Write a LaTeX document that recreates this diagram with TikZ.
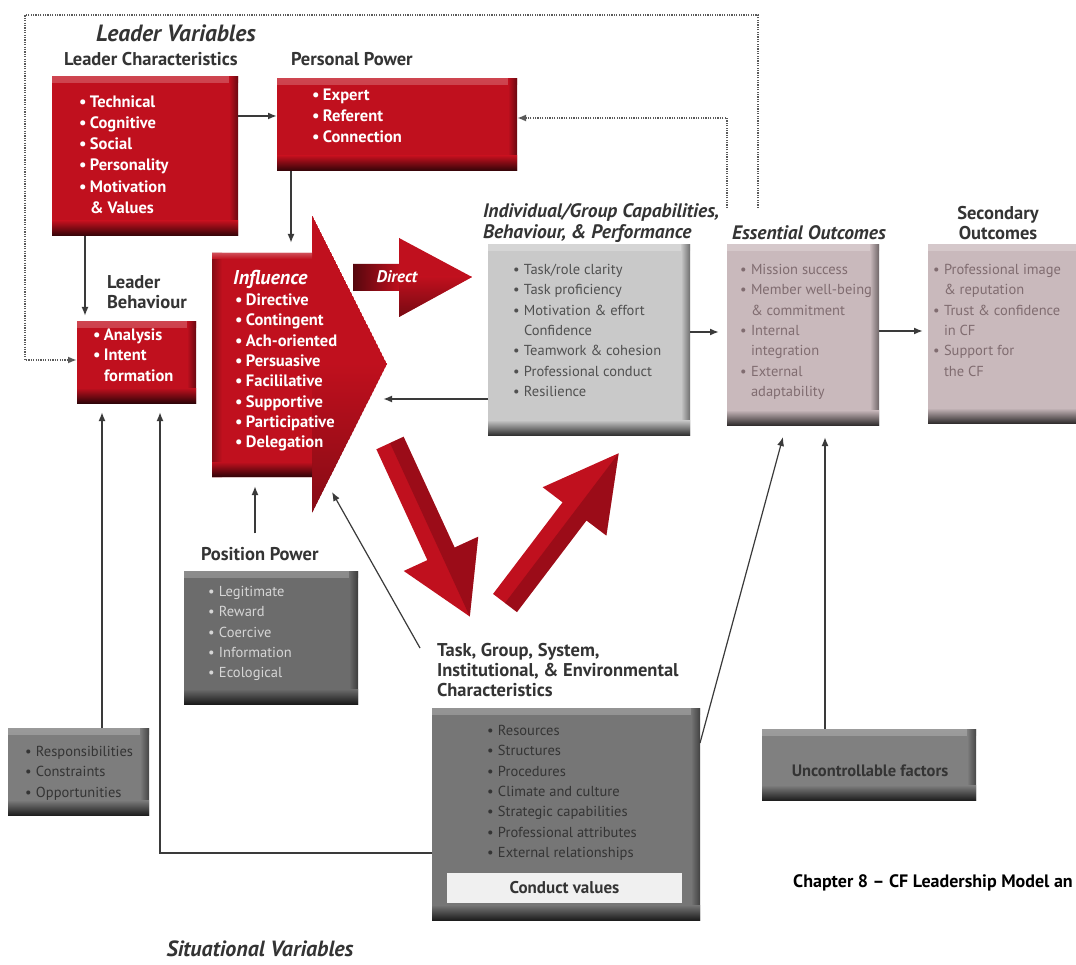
\documentclass[tikz,border=0pt]{standalone}
\usepackage{fontspec}
\setmainfont{PT Sans}
\usetikzlibrary{arrows.meta}

\definecolor{boxred}{RGB}{192,16,30}
\definecolor{capgrey}{RGB}{201,201,201}
\definecolor{mauve}{RGB}{201,185,188}
\definecolor{posgrey}{RGB}{108,108,108}
\definecolor{respgrey}{RGB}{125,125,125}
\definecolor{taskgrey}{RGB}{118,118,118}
\definecolor{uncgrey}{RGB}{128,128,128}
\definecolor{captext}{RGB}{80,80,80}
\definecolor{eotext}{RGB}{128,108,112}
\definecolor{postext}{RGB}{214,214,214}
\definecolor{darktext}{RGB}{52,52,52}
\definecolor{linegrey}{RGB}{58,58,58}
\definecolor{dotgrey}{RGB}{90,90,90}

\newlength\bulw
\setlength\bulw{11pt}
\newcommand\itm[1]{\strut\makebox[\bulw][l]{•}#1}
\newcommand\cnt[1]{\strut\hspace*{\bulw}#1}
\newcommand\fitem{\fontsize{14.5}{20.3}\selectfont}
\newcommand\fitemr{\fontsize{16.5}{21}\selectfont\bfseries}
\newcommand\ftitle{\fontsize{18.5}{20}\selectfont\bfseries}
\newcommand\fhead{\fontsize{19.5}{21}\selectfont\bfseries\itshape}

\tikzset{
  bevel/.style={draw=none, fill=#1, inner sep=0pt, outer sep=0pt, anchor=north west,
    path picture={
      \shade[top color=#1!78!white, bottom color=#1]
        (path picture bounding box.north west) rectangle ([yshift=-6pt]path picture bounding box.north east);
      \shade[left color=#1, right color=#1!55!black]
        ([xshift=-9pt]path picture bounding box.north east) rectangle (path picture bounding box.south east);
      \shade[top color=#1, bottom color=#1!25!black]
        ([yshift=15pt]path picture bounding box.south west) rectangle (path picture bounding box.south east);
    }},
  txt/.style={inner sep=0pt, outer sep=0pt, align=left, anchor=north west},
  redtxt/.style={txt, text=white, font=\fitemr},
  title/.style={inner sep=0pt, outer sep=0pt, anchor=base west, text=darktext, font=\ftitle},
  conn/.style={draw=linegrey, line width=1.8pt, -{Latex[length=9pt,width=7pt]}},
  thinconn/.style={draw=linegrey, line width=1.2pt, -{Latex[length=9pt,width=7pt]}},
  dotconn/.style={draw=dotgrey, line width=2pt, dash pattern=on 1.2pt off 1.2pt,
    -{Latex[length=9pt,width=7pt]}},
}

\begin{document}
\begin{tikzpicture}[x=1pt,y=-1pt]
\clip (0,0) rectangle (1076,965);
\fill[white] (0,0) rectangle (1076,965);

% ---------- boxes ----------
\node[bevel=boxred, minimum width=186pt, minimum height=159pt] (lc) at (52,77) {};
\node[bevel=boxred, minimum width=240pt, minimum height=92pt] (pp) at (277,79) {};
\node[bevel=boxred, minimum width=119pt, minimum height=81pt] (lb) at (77,322) {};
\node[bevel=capgrey, minimum width=202pt, minimum height=190pt] (cap) at (488,245) {};
\node[bevel=mauve, minimum width=152pt, minimum height=180pt] (eo) at (727,245) {};
\node[bevel=mauve, minimum width=170pt, minimum height=178pt] (so) at (928,245) {};
\node[bevel=posgrey, minimum width=174pt, minimum height=133pt] (posp) at (184,571) {};
\node[bevel=respgrey, minimum width=141pt, minimum height=87pt] (resp) at (8,728) {};
\node[bevel=taskgrey, minimum width=268pt, minimum height=212pt] (task) at (432,708) {};
\node[fill=white!94!black, inner sep=0pt, outer sep=0pt, anchor=north west,
      minimum width=235pt, minimum height=30pt] (cond) at (447,873) {};
\node[bevel=uncgrey, minimum width=214pt, minimum height=71pt] (unc) at (762,729) {};

% ---------- influence arrow ----------
\def\inflpath{(212,253) -- (312,253) -- (312,215) -- (387,364) -- (312,513) -- (312,477) -- (212,477) -- cycle}
\begin{scope}
  \clip \inflpath;
  \fill[boxred] \inflpath;
  \shade[left color=boxred!70!black, right color=boxred] (212,253) rectangle (222,477);
  \shade[top color=boxred, bottom color=boxred!25!black] (212,462) rectangle (312,477);
  \shade[top color=boxred, bottom color=boxred!50!black, opacity=0.6] (312,364) rectangle (387,513);
  \shade[top color=boxred!75!white, bottom color=boxred] (212,253) rectangle (312,259);
\end{scope}

% ---------- direct arrow ----------
\def\dirpath{(353,264) -- (399,264) -- (399,238) -- (472,277) -- (399,317) -- (399,291) -- (353,291) -- cycle}
\begin{scope}
  \clip \dirpath;
  \shade[left color=boxred!45!black, right color=boxred] (353,238) rectangle (400,317);
  \fill[boxred] (399,238) rectangle (472,317);
  \shade[top color=boxred, bottom color=boxred!45!black, opacity=0.7] (399,277) rectangle (472,317);
\end{scope}

% ---------- diagonal red arrows ----------
\begin{scope}[shift={(390,443)}, rotate=-65.3]
  \fill[boxred] (0,-15) -- (122,-15) -- (122,-41) -- (191,0) -- (122,41) -- (122,15) -- (0,15) -- cycle;
  \fill[boxred!45!black, opacity=0.35] (0,0) -- (191,0) -- (122,-41) -- (122,-15) -- (0,-15) -- cycle;
\end{scope}
\begin{scope}[shift={(505,603)}, rotate=52.8]
  \fill[boxred] (0,-15) -- (115,-15) -- (115,-40) -- (188,0) -- (115,40) -- (115,15) -- (0,15) -- cycle;
  \fill[boxred!45!black, opacity=0.35] (0,0) -- (188,0) -- (115,40) -- (115,15) -- (0,15) -- cycle;
\end{scope}

% ---------- texts ----------
\node[inner sep=0pt, anchor=base west, text=darktext, font=\fontsize{23.5}{26}\selectfont\bfseries\itshape]
  (lvar) at (96,42) {Leader Variables};
\node[title] (lctitle) at (64,66) {Leader Characteristics};
\node[title] (pptitle) at (291,66) {Personal Power};
\node[txt, text=darktext, font=\ftitle] (lbtitle) at (107,274.5) {\strut Leader\\\strut Behaviour};
\node[txt, text=darktext, font=\fhead] (captitle) at (483,203)
  {\strut Individual/Group Capabilities,\\\strut Behaviour, \& Performance};
\node[inner sep=0pt, anchor=base west, text=darktext, font=\fhead] (eotitle) at (732,239.5) {Essential Outcomes};
\node[inner sep=0pt, anchor=north, align=center, text=darktext, font=\ftitle] (sotitle) at (998,205.5)
  {\strut Secondary\\\strut Outcomes};
\node[title] (postitle) at (201,560.5) {Position Power};
\node[txt, text=darktext, font=\ftitle] (tasktitle) at (437,642.5)
  {\strut Task, Group, System,\\\strut Institutional, \& Environmental\\\strut Characteristics};
\node[inner sep=0pt, anchor=base, text=darktext, font=\fontsize{22}{25}\selectfont\bfseries\itshape]
  (sitvar) at (260,956) {Situational Variables};
\node[inner sep=0pt, anchor=base west, text=black, font=\fontsize{18}{20}\selectfont\bfseries]
  (chap) at (793,887) {Chapter 8 – CF Leadership Model an};

\node[redtxt, font=\fontsize{16.5}{21.2}\selectfont\bfseries] (lcitems) at (79,92.5)
  {\itm{Technical}\\\itm{Cognitive}\\\itm{Social}\\\itm{Personality}\\\itm{Motivation}\\\cnt{\& Values}};
\node[redtxt] (ppitems) at (312,85.5)
  {\itm{Expert}\\\itm{Referent}\\\itm{Connection}};
\node[redtxt, font=\fontsize{16.5}{20.3}\selectfont\bfseries] (lbitems) at (93,326.3)
  {\itm{Analysis}\\\itm{Intent}\\\cnt{formation}};
\node[inner sep=0pt, anchor=base west, text=white, font=\fontsize{20}{22}\selectfont\bfseries\itshape]
  (infltitle) at (233,285) {Influence};
\node[redtxt, font=\fontsize{16.5}{20.3}\selectfont\bfseries] (inflitems) at (235,291.3)
  {\itm{Directive}\\\itm{Contingent}\\\itm{Ach-oriented}\\\itm{Persuasive}\\\itm{Facililative}\\\itm{Supportive}\\\itm{Participative}\\\itm{Delegation}};
\node[inner sep=0pt, anchor=center, text=white, font=\fontsize{16.8}{18}\selectfont\bfseries\itshape]
  (direct) at (397,277) {Direct};

\node[txt, text=captext, font=\fitem] (capitems) at (513,260.3)
  {\itm{Task/role clarity}\\\itm{Task proficiency}\\\itm{Motivation \& effort}\\\cnt{Confidence}\\\itm{Teamwork \& cohesion}\\\itm{Professional conduct}\\\itm{Resilience}};
\node[txt, text=eotext, font=\fitem] (eoitems) at (740,260.3)
  {\itm{Mission success}\\\itm{Member well-being}\\\cnt{\& commitment}\\\itm{Internal}\\\cnt{integration}\\\itm{External}\\\cnt{adaptability}};
\node[txt, text=eotext, font=\fitem] (soitems) at (933,260.3)
  {\itm{Professional image}\\\cnt{\& reputation}\\\itm{Trust \& confidence}\\\cnt{in CF}\\\itm{Support for}\\\cnt{the CF}};
\node[txt, text=postext, font=\fitem] (positems) at (208,582.3)
  {\itm{Legitimate}\\\itm{Reward}\\\itm{Coercive}\\\itm{Information}\\\itm{Ecological}};
\node[txt, text=darktext, font=\fitem] (respitems) at (25,742.3)
  {\itm{Responsibilities}\\\itm{Constraints}\\\itm{Opportunities}};
\node[txt, text=darktext, font=\fitem] (taskitems) at (487,721.3)
  {\itm{Resources}\\\itm{Structures}\\\itm{Procedures}\\\itm{Climate and culture}\\\itm{Strategic capabilities}\\\itm{Professional attributes}\\\itm{External relationships}};
\node[inner sep=0pt, text=darktext, font=\fontsize{17}{20}\selectfont\bfseries] (condtext) at (cond.center) {Conduct values};
\node[inner sep=0pt, text=darktext, font=\fontsize{16.5}{20}\selectfont\bfseries] (unctext) at (870,771) {Uncontrollable factors};

% ---------- connector end points ----------
\coordinate (inflTop) at (291,243);
\coordinate (inflRight) at (383,399);
\coordinate (inflBot) at (255,486);
\coordinate (inflDiag) at (332,492);
\coordinate (taskStart) at (420,648);
\coordinate (eoA) at (783,437);
\coordinate (eoB) at (825,437);
\coordinate (dA) at (758,208);
\coordinate (dB) at (727,208);

% ---------- connectors ----------
\draw[conn] (lc.east |- 0,116) -- (pp.west |- 0,116);
\draw[conn] (pp.south -| 291,0) -- (inflTop);
\draw[conn, shorten >=6pt] (lc.south -| 85,0) -- (lb.north -| 85,0);
\draw[conn, shorten >=9pt] (resp.north -| 102,0) -- (lb.south -| 102,0);
\draw[conn, shorten >=9pt] (task.west |- 0,853) -| (lb.south -| 160,0);
\draw[conn, shorten <=14pt] (postitle.north -| 255,0) -- (inflBot);
\draw[thinconn] (taskStart) -- (inflDiag);
\draw[conn] (cap.west |- 0,399) -- (inflRight);
\draw[conn, shorten >=8pt] (cap.east |- 0,332) -- (eo.west |- 0,332);
\draw[conn, shorten >=5pt] (eo.east |- 0,331) -- (so.west |- 0,331);
\draw[thinconn] (task.east |- 0,743) -- (eoA);
\draw[conn] (unc.north -| 825,0) -- (eoB);
\draw[dotconn] (dA) -- (758,15) -- (25,15) |- (lb.west |- 0,360);
\draw[dotconn] (dB) |- (pp.east |- 0,118);
\end{tikzpicture}
\end{document}
